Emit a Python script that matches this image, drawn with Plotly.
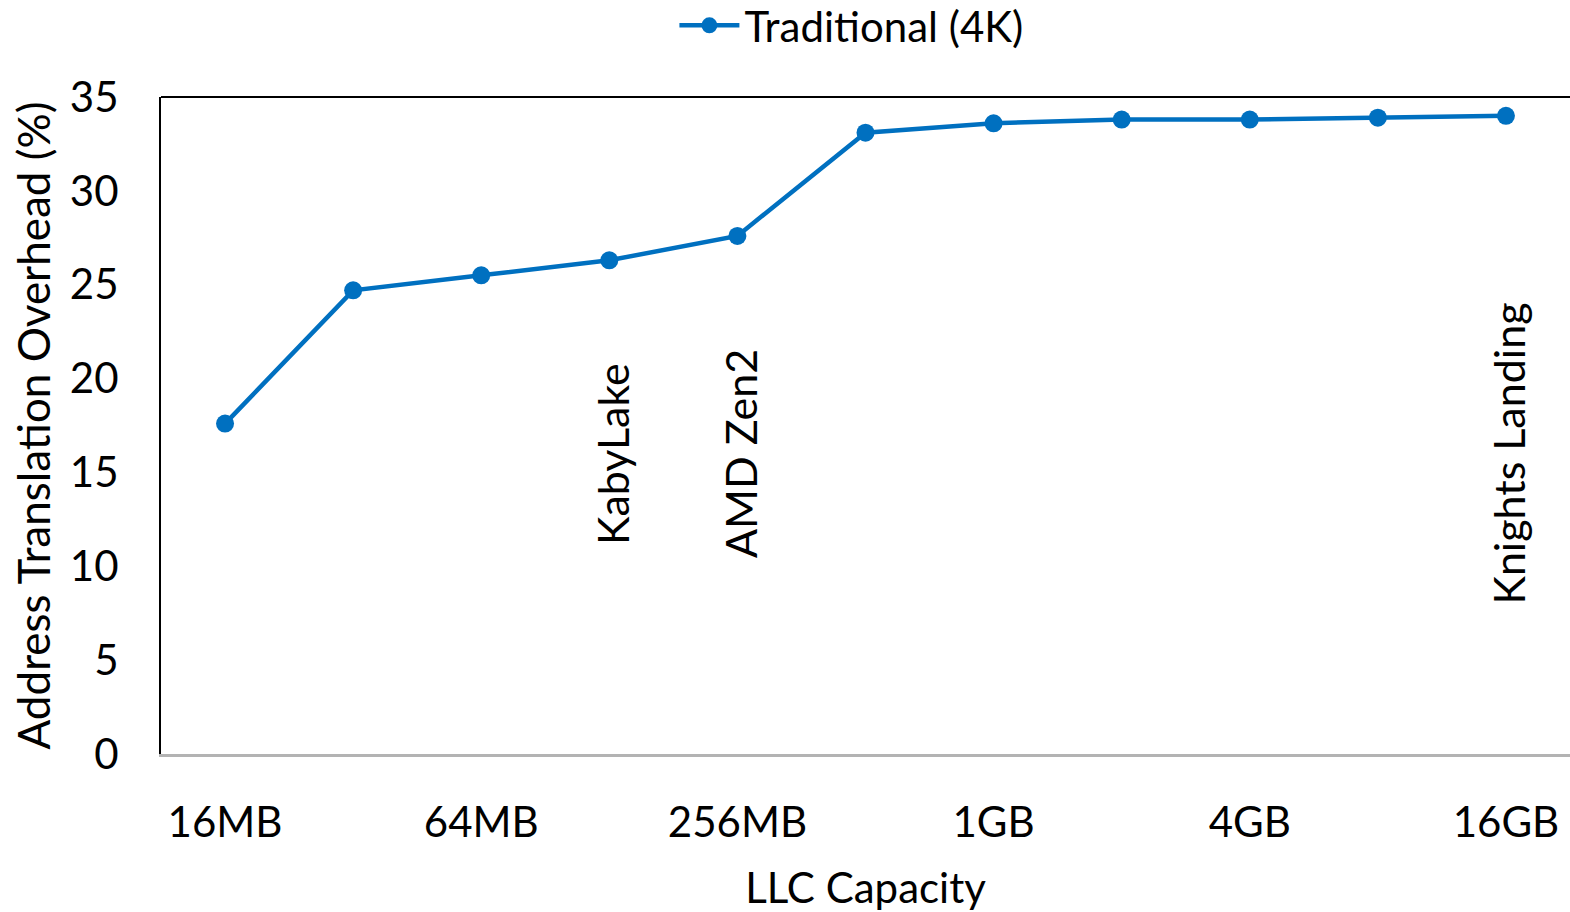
import plotly.graph_objects as go

# LLC capacities swept, and the page-walk overhead measured with 4K pages
capacities = ["16MB", "32MB", "64MB", "128MB", "256MB", "512MB",
              "1GB", "2GB", "4GB", "8GB", "16GB"]
overhead_4k = [17.6, 24.7, 25.5, 26.3, 27.6, 33.1, 33.6, 33.8, 33.8, 33.9, 34.0]

# labelled categories on the x axis
tick_labels = ["16MB", "64MB", "256MB", "1GB", "4GB", "16GB"]

# processors marked at their LLC size
cpu_names = ["KabyLake", "AMD Zen2", "Knights Landing"]
cpu_capacity = ["128MB", "256MB", "16GB"]
cpu_label_y = [16, 16, 16]

FONT = "Lato, 'Open Sans', sans-serif"
BLUE = "#0070C0"

fig = go.Figure()
fig.add_trace(go.Scatter(
    x=capacities, y=overhead_4k, mode="lines+markers",
    name="Traditional (4K)",
    line=dict(color=BLUE, width=4.5),
    marker=dict(color=BLUE, size=18),
))

for name, cap, yv in zip(cpu_names, cpu_capacity, cpu_label_y):
    fig.add_annotation(x=cap, y=yv, text=name, textangle=-90, showarrow=False,
                       xshift=3, font=dict(family=FONT, size=43, color="black"))

# top frame edge
fig.add_shape(type="line", xref="paper", yref="paper", x0=0, x1=1, y0=1, y1=1,
              line=dict(color="black", width=2))

fig.update_layout(
    width=1570, height=912,
    margin=dict(l=161, r=0, t=97, b=154),
    paper_bgcolor="white", plot_bgcolor="white",
    font=dict(family=FONT, size=42, color="black"),
    showlegend=True,
    legend=dict(orientation="h", x=0.49, xanchor="center", y=0.972, yanchor="middle",
                yref="container", font=dict(size=42), itemwidth=60,
                bgcolor="rgba(0,0,0,0)"),
    xaxis=dict(
        type="category", categoryorder="array", categoryarray=capacities,
        range=[-0.5, 10.5], tickmode="array", tickvals=tick_labels,
        ticktext=tick_labels, showgrid=False, zeroline=False,
        showline=True, linecolor="#b3b3b3", linewidth=3, ticks="",
        ticklabelstandoff=30,
        title=dict(text="LLC Capacity", standoff=36, font=dict(size=42)),
    ),
    yaxis=dict(
        range=[0, 35], tickmode="linear", tick0=0, dtick=5,
        showgrid=False, zeroline=False, showline=True, linecolor="black",
        linewidth=2, ticks="", ticklabelstandoff=32,
        title=dict(text="Address Translation Overhead (%)", standoff=5,
                   font=dict(size=44)),
    ),
)

fig.write_html("out.html")
